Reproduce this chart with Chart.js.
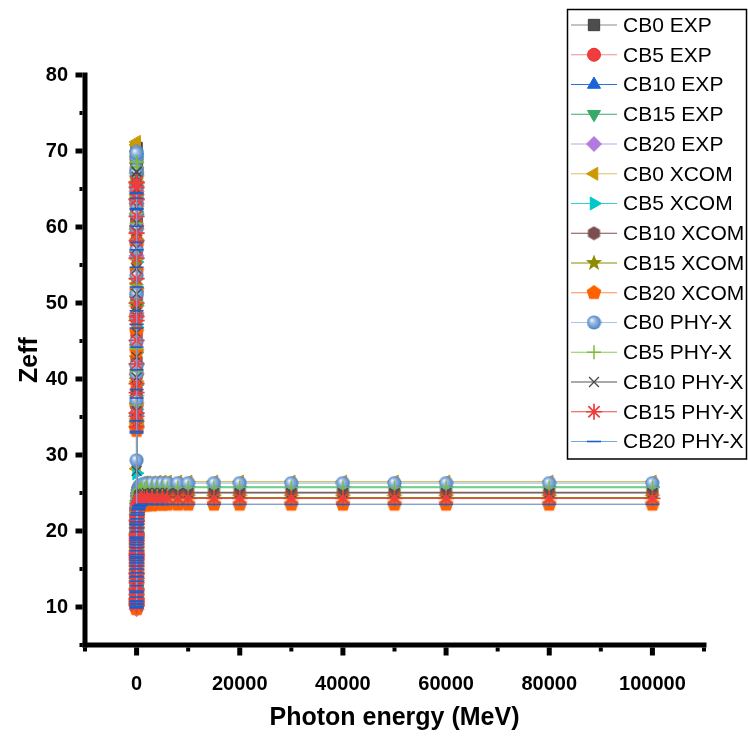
<!DOCTYPE html>
<html><head><meta charset="utf-8">
<script src="https://cdn.jsdelivr.net/npm/chart.js@4.4.1/dist/chart.umd.min.js"></script>
<style>html,body{margin:0;padding:0;background:#fff;}#wrap{width:748px;height:738px;position:relative;}</style>
</head><body><div id="wrap"><canvas id="c"></canvas></div>
<script>
// ---------------- DATA ----------------
const energy = [0.001,0.0015,0.002,0.003,0.004,0.005,0.006,0.008,0.01,
  0.015,0.02,0.03,0.04,0.05,0.06,0.08,0.1,
  0.15,0.2,0.3,0.4,0.5,0.6,0.8,1,
  1.022,1.25,1.5,2,2.044,3,4,5,
  6,7,8,9,10,11,12,13,
  14,15,16,18,20,22,24,26,
  28,30,40,50,60,80,100,150,
  200,300,400,500,600,800,1000,1500,
  2000,3000,4000,5000,6000,8000,10000,15000,
  20000,30000,40000,50000,60000,80000,100000];
const expEnergy = [0.0595,0.081,0.1221,0.2764,0.511,0.6617,0.8261,1.1732,1.3325];

const cb0Exp  = [70.4,68.7,61.5,37.2,18.3,14.9,13.2,11.7,11.2];
const cb5Exp  = [68.9,67.4,60.1,36.5,17.6,14.6,12.8,11.4,11.0];
const cb10Exp = [67.5,65.9,58.8,35.8,17.1,14.3,12.5,11.1,10.6];
const cb15Exp = [66.2,64.6,57.6,35.1,16.8,13.8,12.1,10.8,10.3];
const cb20Exp = [64.7,63.1,56.2,34.4,16.3,13.5,11.8,10.4,9.7];

const cb0Xcom = [35.1,36.8,40.1,44.5,47.9,50.8,53.2,56.7,59.4,
  63.1,65.6,68.4,70.0,70.8,71.2,69.3,63.4,
  52.6,43.0,33.6,28.2,21.4,17.3,13.9,12.3,
  12.2,11.6,11.0,10.9,10.9,11.5,12.4,13.3,
  14.1,14.8,15.5,16.1,16.6,17.1,17.5,17.9,
  18.2,18.5,18.8,19.3,19.7,20.1,20.4,20.7,
  21.0,21.2,22.0,22.6,23.0,23.6,24.0,24.6,
  25.0,25.4,25.7,25.9,26.0,26.2,26.3,26.4,
  26.4,26.4,26.5,26.5,26.5,26.5,26.5,26.5,
  26.5,26.5,26.5,26.5,26.5,26.5,26.5];
const cb5Xcom = [34.5,36.0,39.2,43.5,46.8,49.7,52.0,55.4,58.1,
  61.7,64.2,66.9,68.5,69.3,69.6,67.8,62.0,
  51.5,42.1,33.9,27.6,20.9,16.8,13.5,12.0,
  11.9,11.3,10.8,10.7,10.7,11.2,12.1,13.0,
  13.8,14.5,15.1,15.7,16.2,16.7,17.1,17.4,
  17.7,18.0,18.3,18.8,19.2,19.6,19.9,20.2,
  20.4,20.6,21.4,22.0,22.4,23.0,23.4,24.0,
  24.3,24.7,25.0,25.2,25.3,25.5,25.6,25.7,
  25.7,25.7,25.8,25.8,25.8,25.8,25.8,25.8,
  25.8,25.8,25.8,25.8,25.8,25.8,25.8];
const cb10Xcom = [34.0,35.2,38.3,42.5,45.7,48.5,50.8,54.1,56.8,
  60.3,62.8,65.5,67.1,68.0,68.5,66.5,60.7,
  50.4,41.2,34.6,22.3,17.0,14.6,12.3,11.2,
  11.1,10.8,10.5,10.4,10.4,10.9,11.8,12.6,
  13.4,14.1,14.7,15.2,15.7,16.2,16.6,16.9,
  17.2,17.5,17.8,18.3,18.7,19.0,19.3,19.6,
  19.8,20.0,20.8,21.4,21.8,22.3,22.7,23.3,
  23.6,24.0,24.3,24.5,24.6,24.8,24.9,25.0,
  25.0,25.0,25.1,25.1,25.1,25.1,25.1,25.1,
  25.1,25.1,25.1,25.1,25.1,25.1,25.1];
const cb15Xcom = [33.6,34.4,37.5,41.5,44.7,47.4,49.6,52.9,55.5,
  58.9,61.4,64.0,65.6,66.4,66.8,65.0,59.4,
  49.3,40.3,35.2,21.8,16.6,14.2,12.0,10.9,
  10.8,10.5,10.2,10.1,10.1,10.6,11.5,12.3,
  13.1,13.7,14.3,14.8,15.3,15.7,16.1,16.4,
  16.7,17.0,17.3,17.8,18.2,18.5,18.8,19.1,
  19.3,19.5,20.3,20.8,21.2,21.7,22.1,22.6,
  22.9,23.3,23.6,23.8,23.9,24.1,24.2,24.3,
  24.3,24.3,24.4,24.4,24.4,24.4,24.4,24.4,
  24.4,24.4,24.4,24.4,24.4,24.4,24.4];
const cb20Xcom = [33.2,33.9,36.6,40.5,43.6,46.2,48.4,51.6,54.2,
  57.5,59.9,62.5,64.0,64.8,65.2,63.4,58.0,
  48.1,39.4,34.2,21.2,16.2,13.9,11.7,10.6,
  10.5,10.2,9.9,9.8,9.8,10.3,11.2,12.0,
  12.7,13.3,13.9,14.4,14.9,15.3,15.7,16.0,
  16.3,16.5,16.8,17.3,17.7,18.0,18.3,18.6,
  18.8,19.0,19.7,20.2,20.6,21.1,21.5,22.0,
  22.3,22.6,22.9,23.1,23.2,23.3,23.4,23.4,
  23.4,23.4,23.5,23.5,23.5,23.5,23.5,23.5,
  23.5,23.5,23.5,23.5,23.5,23.5,23.5];

const cb0Phyx = [35.4,37.2,40.6,44.9,48.3,51.1,53.6,57.0,59.8,
  63.0,65.2,67.6,69.1,69.9,69.7,67.2,61.6,
  51.2,41.8,29.3,22.9,18.1,15.6,13.1,12.0,
  11.9,11.5,11.2,11.1,11.1,11.6,12.5,13.4,
  14.2,14.9,15.6,16.2,16.7,17.2,17.6,18.0,
  18.3,18.6,18.9,19.4,19.8,20.2,20.5,20.8,
  21.1,21.3,22.1,22.7,23.1,23.6,24.0,24.6,
  24.9,25.3,25.6,25.8,25.9,26.0,26.1,26.2,
  26.2,26.3,26.3,26.3,26.3,26.3,26.3,26.3,
  26.3,26.3,26.3,26.3,26.3,26.3,26.3];
const cb5Phyx = [34.8,36.5,39.7,43.9,47.2,50.0,52.4,55.8,58.5,
  61.8,64.0,66.4,67.9,68.6,68.5,66.1,60.5,
  50.2,41.0,34.1,22.4,17.7,15.2,12.8,11.7,
  11.6,11.3,11.0,10.8,10.8,11.3,12.2,13.1,
  13.9,14.6,15.2,15.8,16.3,16.8,17.2,17.5,
  17.8,18.1,18.4,18.9,19.3,19.7,20.0,20.3,
  20.6,20.8,21.6,22.2,22.6,23.1,23.5,24.1,
  24.4,24.8,25.1,25.3,25.4,25.5,25.6,25.6,
  25.7,25.7,25.7,25.7,25.7,25.7,25.7,25.7,
  25.7,25.7,25.7,25.7,25.7,25.7,25.7];
const cb10Phyx = [34.2,35.8,38.9,42.9,46.1,48.8,51.2,54.5,57.2,
  60.5,62.7,65.1,66.6,67.3,67.2,64.9,59.4,
  49.2,40.2,34.8,27.9,17.2,14.8,12.5,11.4,
  11.3,11.0,10.7,10.5,10.5,11.0,11.9,12.7,
  13.5,14.2,14.8,15.3,15.8,16.3,16.7,17.0,
  17.3,17.6,17.9,18.4,18.8,19.2,19.5,19.8,
  20.0,20.2,21.0,21.5,21.9,22.4,22.8,23.4,
  23.7,24.1,24.4,24.6,24.7,24.8,24.9,24.9,
  25.0,25.0,25.0,25.0,25.0,25.0,25.0,25.0,
  25.0,25.0,25.0,25.0,25.0,25.0,25.0];
const cb15Phyx = [33.7,35.1,38.2,42.0,45.1,47.7,50.0,53.2,55.9,
  59.2,61.4,63.7,65.2,65.9,65.8,63.6,58.2,
  48.2,39.4,35.5,21.4,16.8,14.4,12.2,11.1,
  11.0,10.7,10.4,10.2,10.2,10.7,11.6,12.4,
  13.2,13.8,14.4,14.9,15.4,15.8,16.2,16.5,
  16.8,17.1,17.4,17.9,18.3,18.7,19.0,19.3,
  19.5,19.7,20.4,20.9,21.3,21.8,22.2,22.7,
  23.0,23.4,23.7,23.9,24.0,24.1,24.2,24.2,
  24.3,24.3,24.3,24.3,24.3,24.3,24.3,24.3,
  24.3,24.3,24.3,24.3,24.3,24.3,24.3];
const cb20Phyx = [33.1,34.5,37.5,41.2,44.2,46.7,49.0,52.1,54.7,
  58.0,60.1,62.4,63.8,64.5,64.4,62.3,57.0,
  47.2,38.6,32.9,20.9,16.4,14.0,11.9,10.8,
  10.7,10.4,10.1,9.9,9.9,10.4,11.3,12.1,
  12.8,13.4,14.0,14.5,15.0,15.4,15.8,16.1,
  16.4,16.6,16.9,17.4,17.8,18.2,18.5,18.8,
  19.0,19.2,19.9,20.4,20.8,21.2,21.6,22.1,
  22.4,22.8,23.0,23.2,23.3,23.4,23.5,23.5,
  23.5,23.5,23.5,23.5,23.5,23.5,23.5,23.5,
  23.5,23.5,23.5,23.5,23.5,23.5,23.5];

const seriesNames = ['CB0 EXP','CB5 EXP','CB10 EXP','CB15 EXP','CB20 EXP',
  'CB0 XCOM','CB5 XCOM','CB10 XCOM','CB15 XCOM','CB20 XCOM',
  'CB0 PHY-X','CB5 PHY-X','CB10 PHY-X','CB15 PHY-X','CB20 PHY-X'];
const xMajorTicks = [0,20000,40000,60000,80000,100000];
const xMinorTicks = [-10000,10000,30000,50000,70000,90000,110000];
const yMajorTicks = [10,20,30,40,50,60,70,80];
const yMinorTicks = [5,15,25,35,45,55,65,75];

// ---------------- MARKER IMAGES ----------------
function mk(size, fn){const c=document.createElement('canvas');c.width=size;c.height=size;fn(c.getContext('2d'),size/2);return c;}
function poly(g,c,n,r,start,col){g.fillStyle=col;g.beginPath();for(let k=0;k<n;k++){const a=start+k*2*Math.PI/n;const px=c+Math.cos(a)*r,py=c+Math.sin(a)*r;k?g.lineTo(px,py):g.moveTo(px,py);}g.closePath();g.fill();}
const hexImg = mk(15,(g,c)=>poly(g,c,6,7,-Math.PI/2,'#7d4e4e'));
const pentImg = mk(16,(g,c)=>poly(g,c,5,7.8,-Math.PI/2,'#ff6100'));
const starImg = mk(18,(g,c)=>{g.fillStyle='#8e8c00';g.beginPath();for(let k=0;k<10;k++){const r=k%2?3.6:8.6;const a=-Math.PI/2+k*Math.PI/5;const px=c+Math.cos(a)*r,py=c+Math.sin(a)*r;k?g.lineTo(px,py):g.moveTo(px,py);}g.closePath();g.fill();});
const sphereImg = mk(15,(g,c)=>{const gr=g.createRadialGradient(c-2.4,c-2.6,0.3,c,c,7.2);gr.addColorStop(0,'#f4f8fd');gr.addColorStop(0.35,'#9dbde6');gr.addColorStop(0.8,'#6594cf');gr.addColorStop(1,'#4a78b4');g.fillStyle=gr;g.beginPath();g.arc(c,c,7,0,Math.PI*2);g.fill();});

// ---------------- STYLES ----------------
const styles = [
  {line:'#8a8a8a', ps:'rect', r:8, fill:'#4d4d4d', edge:'#3c3c3c'},
  {line:'#f08c8c', ps:'circle', r:6.5, fill:'#f03c3c', edge:'#e83030'},
  {line:'#2a6fdc', ps:'triangle', r:7.5, fill:'#1a64d8', edge:'#1a64d8'},
  {line:'#3aa86a', ps:'triangle', rot:180, r:7.5, fill:'#36a868', edge:'#36a868'},
  {line:'#c6a2ea', ps:'rectRot', r:7.5, fill:'#b27ade', edge:'#b27ade'},
  {line:'#dcc060', ps:'triangle', rot:-90, r:7.5, fill:'#cc9900', edge:'#cc9900'},
  {line:'#33d0d0', ps:'triangle', rot:90, r:7.5, fill:'#00c8c8', edge:'#00c8c8'},
  {line:'#7d4e4e', ps:hexImg, r:7, fill:'#7d4e4e', edge:'#7d4e4e'},
  {line:'#8e8c00', ps:starImg, r:7, fill:'#8e8c00', edge:'#8e8c00'},
  {line:'#ff8c4a', ps:pentImg, r:7, fill:'#ff6100', edge:'#ff6100'},
  {line:'#a6c4e8', ps:sphereImg, r:7, fill:'#6594cf', edge:'#6594cf'},
  {line:'#8ccc55', ps:'cross', r:7, fill:'#7cbc3c', edge:'#7cbc3c', bw:1.5},
  {line:'#555555', ps:'crossRot', r:7, fill:'#4a4a4a', edge:'#4a4a4a', bw:1.3},
  {line:'#e84a4a', ps:'star', r:8, fill:'#f04040', edge:'#f03c3c', bw:1.7},
  {line:'#78a4e0', ps:'line', r:7, fill:'#1d5fc8', edge:'#1d5fc8', bw:1.6}
];
const seriesValues = [cb0Exp,cb5Exp,cb10Exp,cb15Exp,cb20Exp,cb0Xcom,cb5Xcom,cb10Xcom,cb15Xcom,cb20Xcom,cb0Phyx,cb5Phyx,cb10Phyx,cb15Phyx,cb20Phyx];

const datasets = seriesValues.map((vals,i)=>{
  const xs = i<5 ? expEnergy : energy;
  const s = styles[i];
  return {
    label: seriesNames[i],
    data: vals.map((v,k)=>({x:xs[k], y:v})),
    showLine:true, borderColor:s.line, borderWidth:1.2,
    pointStyle:s.ps, pointRadius:s.r, pointRotation:s.rot||0,
    pointBackgroundColor:s.fill, pointBorderColor:s.edge, pointBorderWidth:s.bw||1,
    order: 15-i
  };
});

// ---------------- PLUGINS ----------------
const AX = 5;
const axesPlugin = {
  id:'axesDraw',
  afterDatasetsDraw(chart){
    const {ctx, chartArea:a, scales:{x,y}} = chart;
    ctx.save(); ctx.fillStyle='#000';
    ctx.fillRect(a.left-AX/2, a.top-AX/2, AX, a.bottom-a.top+AX);
    ctx.fillRect(a.left-AX/2, a.bottom-AX/2, a.right-a.left+AX, AX);
    yMajorTicks.forEach(v=>{const p=y.getPixelForValue(v); ctx.fillRect(a.left-AX/2-7, p-2.5, 7, 5);});
    yMinorTicks.forEach(v=>{const p=y.getPixelForValue(v); ctx.fillRect(a.left-AX/2-3, p-2, 3, 4);});
    xMajorTicks.forEach(v=>{const p=x.getPixelForValue(v); ctx.fillRect(p-2.5, a.bottom+AX/2, 5, 8);});
    xMinorTicks.forEach(v=>{const p=x.getPixelForValue(v); ctx.fillRect(p-2, a.bottom+AX/2, 4, 4);});
    ctx.restore();
  }
};
const legendPlugin = {
  id:'boxLegend',
  afterDraw(chart){
    const ctx = chart.ctx;
    ctx.save();
    ctx.strokeStyle='#000'; ctx.lineWidth=1.5;
    ctx.strokeRect(567.5, 9.5, 179, 449.5);
    chart.data.datasets.forEach((d,i)=>{
      const cy = 25 + 29.75*i;
      ctx.strokeStyle=d.borderColor; ctx.lineWidth=d.borderWidth;
      ctx.beginPath(); ctx.moveTo(571,cy); ctx.lineTo(617,cy); ctx.stroke();
      ctx.fillStyle=d.pointBackgroundColor; ctx.strokeStyle=d.pointBorderColor; ctx.lineWidth=d.pointBorderWidth;
      Chart.helpers.drawPoint(ctx,{pointStyle:d.pointStyle, rotation:d.pointRotation, radius:d.pointRadius, borderWidth:d.pointBorderWidth},594,cy);
      ctx.fillStyle='#000'; ctx.font='21px "Liberation Sans", Arial, sans-serif';
      ctx.textAlign='left'; ctx.textBaseline='middle';
      ctx.fillText(d.label, 623, cy+1);
    });
    ctx.restore();
  }
};

const FONT = '"Liberation Sans", Arial, sans-serif';
new Chart(document.getElementById('c'), {
  type:'scatter',
  data:{datasets},
  options:{
    responsive:true, maintainAspectRatio:false, animation:false, events:[],
    layout:{padding:{top:75,right:44,left:0,bottom:0}},
    plugins:{legend:{display:false}, tooltip:{enabled:false}},
    scales:{
      x:{type:'linear', min:-10000, max:110000,
        afterBuildTicks:s=>{s.ticks=xMajorTicks.map(v=>({value:v}));},
        afterFit:s=>{s.height=93;},
        grid:{display:false, drawTicks:false}, border:{display:false},
        ticks:{padding:27, color:'#000', font:{family:FONT, size:20, weight:'bold'}, callback:v=>String(v), maxRotation:0, autoSkip:false},
        title:{display:true, text:'Photon energy (MeV)', color:'#000', font:{family:FONT, size:25, weight:'bold'}, padding:{top:0,bottom:5}}
      },
      y:{type:'linear', min:5, max:80,
        afterBuildTicks:s=>{s.ticks=yMajorTicks.map(v=>({value:v}));},
        afterFit:s=>{s.width=85;},
        grid:{display:false, drawTicks:false}, border:{display:false},
        ticks:{padding:17, color:'#000', font:{family:FONT, size:20, weight:'bold'}, callback:v=>String(v), autoSkip:false},
        title:{display:true, text:'Zeff', color:'#000', font:{family:FONT, size:25, weight:'bold'}, padding:{top:15,bottom:0}}
      }
    }
  },
  plugins:[axesPlugin, legendPlugin]
});
</script></body></html>
